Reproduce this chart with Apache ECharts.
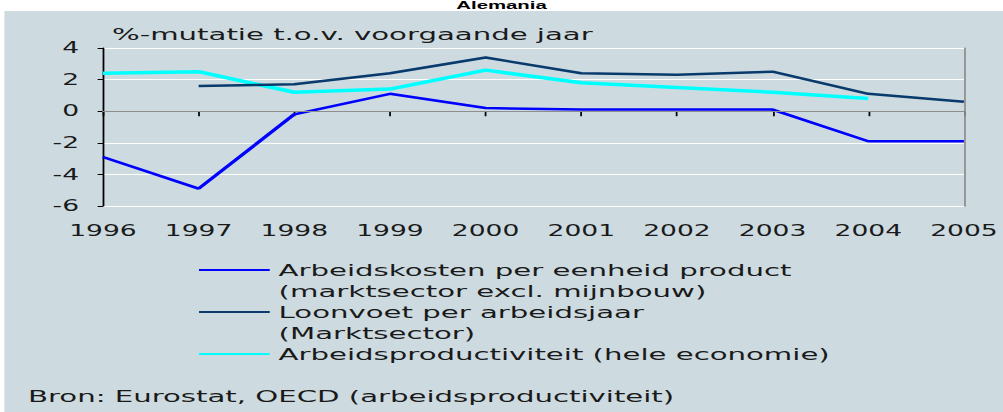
<!DOCTYPE html>
<html>
<head>
<meta charset="utf-8">
<script src="https://cdn.jsdelivr.net/npm/echarts@6/dist/echarts.min.js"></script>
<style>
html,body{margin:0;padding:0;background:#ffffff;overflow:hidden;}
#wrap{width:1003px;height:412px;overflow:hidden;position:relative;}
#c{width:567px;height:412px;transform:scaleX(1.76896);transform-origin:0 0;}
</style>
</head>
<body>
<div id="wrap"><div id="c"></div></div>
<script>
var years = ['1996','1997','1998','1999','2000','2001','2002','2003','2004','2005'];
var arbeidskosten = [-2.9, -4.9, -0.2, 1.1, 0.2, 0.1, 0.1, 0.1, -1.9, -1.9];
var loonvoet = [null, 1.6, 1.7, 2.4, 3.4, 2.4, 2.3, 2.5, 1.1, 0.6];
var productiviteit = [2.4, 2.5, 1.2, 1.4, 2.6, 1.8, 1.5, 1.2, 0.8, null];
var seriesNames = [
  'Arbeidskosten per eenheid product\n(marktsector excl. mijnbouw)',
  'Loonvoet per arbeidsjaar\n(Marktsector)',
  'Arbeidsproductiviteit (hele economie)'
];
var titleText = 'Alemania';
var subTitle = '%-mutatie t.o.v. voorgaande jaar';
var sourceText = 'Bron: Eurostat, OECD (arbeidsproductiviteit)';

var FONT = 'DejaVu Sans';
var TXT = '#1a1a1a';
var chart = echarts.init(document.getElementById('c'), null, {renderer: 'svg'});
chart.setOption({
  animation: false,
  backgroundColor: 'transparent',
  graphic: [{
    type: 'rect', z: -100, left: 2.5, top: 11,
    shape: {width: 565, height: 401},
    style: {fill: '#cddbe1'}
  }],
  title: [
    {text: titleText, left: 'center', top: 0, padding: 0,
     textStyle: {fontFamily: 'Liberation Sans', fontWeight: 'bold', fontSize: 11.5, color: '#000', lineHeight: 11}},
    {text: subTitle, left: 63.3, top: 26, padding: 0,
     textStyle: {fontFamily: FONT, fontWeight: 'normal', fontSize: 16.5, color: TXT}},
    {text: sourceText, left: 15.8, top: 388, padding: 0,
     textStyle: {fontFamily: FONT, fontWeight: 'normal', fontSize: 16.5, color: TXT}}
  ],
  legend: {
    orient: 'vertical', left: 111.5, top: 238.5, padding: 0,
    itemWidth: 40, itemHeight: 14, itemGap: -21,
    itemStyle: {opacity: 0},
    data: seriesNames,
    formatter: function (name) {
      return '\n' + name + (name.indexOf('\n') >= 0 ? '' : '\n ');
    },
    textStyle: {fontFamily: FONT, fontSize: 16.5, color: TXT, lineHeight: 21}
  },
  grid: {left: 58.2, right: 21.5, top: 48, height: 158, containLabel: false},
  xAxis: [{
    type: 'category', data: years, boundaryGap: false,
    axisLine: {lineStyle: {color: '#000', width: 1}},
    axisTick: {show: true, length: 5, lineStyle: {color: '#000'}},
    axisLabel: {margin: 17, fontFamily: FONT, fontSize: 15, color: TXT, interval: 0},
    splitLine: {show: false}
  }, {
    type: 'category', data: years, boundaryGap: false, position: 'top', z: 5,
    axisLine: {lineStyle: {color: '#8e8e8e', width: 1}},
    axisTick: {show: false}, axisLabel: {show: false}, splitLine: {show: false}
  }],
  yAxis: [{
    type: 'value', min: -6, max: 4, interval: 2,
    axisLine: {show: true, lineStyle: {color: '#000', width: 1}},
    axisTick: {show: true, length: 3, lineStyle: {color: '#000'}},
    axisLabel: {margin: 13.5, fontFamily: FONT, fontSize: 15, color: TXT},
    splitLine: {show: true, lineStyle: {color: '#ffffff', width: 1}}
  }, {
    type: 'value', min: -6, max: 4, interval: 2, position: 'right', z: 5,
    axisLine: {show: true, lineStyle: {color: '#8e8e8e', width: 1}},
    axisTick: {show: false}, axisLabel: {show: false}, splitLine: {show: false}
  }],
  series: [
    {name: seriesNames[0], type: 'line', data: arbeidskosten, symbol: 'none',
     lineStyle: {color: '#0000ff', width: 2.5}, itemStyle: {color: '#0000ff'}, z: 4},
    {name: seriesNames[1], type: 'line', data: loonvoet, symbol: 'none',
     lineStyle: {color: '#083a6c', width: 2.5}, itemStyle: {color: '#083a6c'}, z: 3},
    {name: seriesNames[2], type: 'line', data: productiviteit, symbol: 'none',
     lineStyle: {color: '#00ffff', width: 3.5}, itemStyle: {color: '#00ffff'}, z: 2}
  ]
});
</script>
</body>
</html>
